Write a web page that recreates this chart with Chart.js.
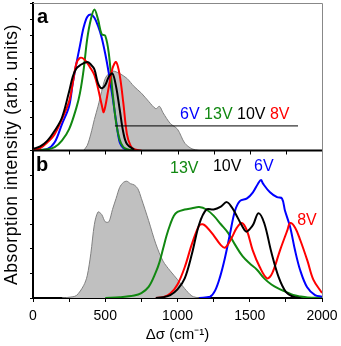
<!DOCTYPE html>
<html lang="en">
<head>
<meta charset="UTF-8">
<title>Absorption spectra</title>
<style>
  body { margin: 0; background: #fff; }
  #wrap { width: 341px; height: 346px; }
</style>
</head>
<body>
<div id="wrap"><canvas id="chart" width="341" height="346"></canvas></div>
<script src="https://cdn.jsdelivr.net/npm/chart.js"></script>
<script>
// ---- panel a ----
const aGrayX  = [350, 375, 400, 425, 450, 475, 500, 525, 550, 575, 600, 650, 700, 750, 800, 850, 875, 900, 950, 1000, 1050, 1100, 1150];
const aGrayY  = [0, 0.3, 1.0, 1.9, 2.7, 3.6, 4.4, 4.7, 4.85, 4.8, 4.7, 4.4, 3.9, 3.5, 3.0, 2.55, 2.7, 2.3, 1.65, 1.3, 0.45, 0.1, 0];
const aBlueX  = [0, 100, 150, 200, 250, 275, 300, 325, 350, 375, 400, 425, 450, 475, 500, 525, 550, 575, 600, 625, 650, 700];
const aBlueY  = [0, 0.1, 0.5, 1.6, 2.7, 4.1, 5.3, 6.4, 7.5, 8.15, 8.3, 8.1, 7.6, 6.9, 5.9, 4.7, 3.3, 1.8, 0.5, 0.15, 0.05, 0];
const aGreenX = [0, 100, 150, 200, 250, 300, 325, 350, 375, 400, 425, 450, 475, 500, 525, 550, 575, 600, 625, 650, 700];
const aGreenY = [0, 0.07, 0.2, 0.6, 1.3, 2.6, 3.5, 4.9, 6.8, 8.0, 8.6, 8.0, 7.1, 7.0, 5.9, 3.6, 1.7, 0.65, 0.2, 0.08, 0];
const aRedX   = [0, 50, 100, 150, 200, 250, 275, 300, 325, 350, 375, 400, 425, 450, 475, 490, 525, 550, 575, 600, 625, 650, 675, 700, 750];
const aRedY   = [0.05, 0.15, 0.5, 1.0, 1.9, 3.0, 4.1, 5.3, 5.65, 5.6, 5.35, 5.0, 4.6, 3.8, 2.8, 2.35, 3.9, 5.0, 5.4, 4.6, 2.9, 1.0, 0.3, 0.08, 0];
const aBlackX = [0, 50, 100, 150, 200, 250, 275, 300, 325, 375, 400, 425, 450, 475, 500, 525, 550, 575, 600, 625, 650, 700];
const aBlackY = [0.1, 0.25, 0.6, 1.2, 2.0, 3.6, 4.5, 5.0, 5.2, 5.4, 5.25, 4.95, 4.1, 3.8, 4.0, 4.5, 4.7, 3.9, 2.5, 1.1, 0.4, 0.05];
const aLineX  = [567, 1834];
const aLineY  = [1.5, 1.5];

// ---- panel b ----
const bGrayX  = [200, 250, 300, 350, 375, 400, 425, 450, 475, 500, 525, 550, 575, 600, 625, 650, 675, 700, 725, 750, 800, 850, 900, 950, 1000, 1050, 1100, 1150];
const bGrayY  = [0, 0.03, 0.1, 0.5, 0.9, 1.8, 3.0, 3.5, 3.4, 3.1, 3.1, 3.6, 4.05, 4.5, 4.7, 4.75, 4.65, 4.6, 4.45, 4.05, 3.15, 2.2, 1.5, 1.1, 0.75, 0.38, 0.08, 0];
const bGreenX = [500, 600, 700, 750, 800, 850, 875, 900, 925, 950, 975, 1000, 1050, 1100, 1150, 1200, 1250, 1300, 1350, 1400, 1450, 1500, 1550, 1600, 1650, 1700, 1750, 1800, 1850, 1900, 2000];
const bGreenY = [0, 0.03, 0.1, 0.2, 0.45, 1.05, 1.45, 2.0, 2.55, 3.0, 3.35, 3.5, 3.6, 3.65, 3.7, 3.6, 3.35, 3.0, 2.65, 2.15, 1.7, 1.4, 1.15, 0.8, 0.55, 0.38, 0.25, 0.12, 0.06, 0.02, 0];
const bBlackX = [850, 900, 950, 1000, 1050, 1100, 1150, 1200, 1250, 1300, 1340, 1375, 1400, 1450, 1475, 1500, 1525, 1560, 1600, 1650, 1700, 1750, 1800, 1850];
const bBlackY = [0, 0.03, 0.12, 0.35, 0.8, 1.8, 3.0, 3.6, 3.6, 3.72, 3.9, 3.7, 3.45, 2.9, 2.7, 2.8, 3.0, 3.45, 3.05, 1.85, 0.85, 0.25, 0.05, 0];
const bRedX   = [850, 900, 950, 1000, 1050, 1100, 1150, 1175, 1200, 1250, 1300, 1330, 1375, 1410, 1445, 1480, 1520, 1570, 1620, 1655, 1710, 1760, 1780, 1815, 1850, 1900, 1940, 2000];
const bRedY   = [0, 0.03, 0.18, 0.55, 1.25, 2.2, 2.95, 3.0, 2.9, 2.55, 2.15, 2.05, 2.45, 2.85, 3.05, 2.75, 1.95, 1.25, 0.8, 1.0, 1.95, 2.75, 3.05, 2.85, 2.35, 1.5, 0.75, 0.2];
const bBlueX  = [1150, 1225, 1260, 1294, 1329, 1363, 1398, 1433, 1481, 1522, 1557, 1578, 1592, 1640, 1689, 1723, 1744, 1779, 1813, 1848, 1896, 1952, 2000];
const bBlueY  = [0, 0.05, 0.3, 0.85, 1.65, 2.6, 3.55, 3.95, 4.05, 4.3, 4.65, 4.8, 4.65, 4.3, 4.1, 4.05, 3.55, 2.9, 1.95, 1.15, 0.45, 0.12, 0.05];

const xTicks = [0, 500, 1000, 1500, 2000];
const labelsA = ['6V', '13V', '10V', '8V'];
const labelsB = ['13V', '10V', '6V', '8V'];

const BLUE = '#0000ff', GREEN = '#118811', RED = '#ff0000', BLACK = '#000000';
const FONT = "'Liberation Sans', Arial, sans-serif";

const pts = (xs, ys) => xs.map((x, i) => ({x: x, y: ys[i]}));

function curve(xs, ys, color, axis, order) {
  return {
    data: pts(xs, ys), yAxisID: axis, borderColor: color, borderWidth: 2,
    pointRadius: 0, tension: 0.35, fill: false, order: order
  };
}
function shade(xs, ys, axis) {
  return {
    data: pts(xs, ys), yAxisID: axis, borderColor: '#808080', borderWidth: 1,
    backgroundColor: '#c0c0c0', pointRadius: 0, tension: 0.3, fill: 'origin', order: 20
  };
}

const decor = {
  id: 'decor',
  afterDatasetsDraw(chart) {
    const c = chart.ctx, x = chart.scales.x, ya = chart.scales.ya, yb = chart.scales.yb;
    c.save();
    // frame top and right (grey)
    c.strokeStyle = '#888';
    c.lineWidth = 1;
    c.beginPath();
    c.moveTo(x.left, ya.top + 0.5); c.lineTo(x.right + 0.5, ya.top + 0.5);
    c.lineTo(x.right + 0.5, yb.bottom);
    c.stroke();
    // separator between panels
    c.strokeStyle = BLACK;
    c.lineWidth = 2;
    c.beginPath();
    c.moveTo(x.left, yb.top); c.lineTo(x.right, yb.top);
    c.stroke();
    // inward ticks on top of panel b
    c.lineWidth = 1;
    c.beginPath();
    for (let v = 250; v < 2000; v += 250) {
      const px = Math.round(x.getPixelForValue(v)) + 0.5;
      c.moveTo(px, yb.top); c.lineTo(px, yb.top + 4);
    }
    c.stroke();

    // panel letters
    c.fillStyle = BLACK;
    c.font = 'bold 20px ' + FONT;
    c.textBaseline = 'alphabetic';
    c.textAlign = 'left';
    c.fillText('a', x.left + 4, ya.top + 20);
    c.fillText('b', x.left + 3, yb.top + 20);

    // series labels panel a
    c.font = '16px ' + FONT;
    const colA = [BLUE, GREEN, BLACK, RED];
    let px = x.getPixelForValue(1018);
    labelsA.forEach((t, i) => {
      c.fillStyle = colA[i];
      c.fillText(t, px, ya.top + 116);
      px += c.measureText(t + ' ').width;
    });
    // series labels panel b
    c.fillStyle = GREEN; c.fillText(labelsB[0], x.getPixelForValue(948), yb.top + 22);
    c.fillStyle = BLACK; c.fillText(labelsB[1], x.getPixelForValue(1245), yb.top + 20);
    c.fillStyle = BLUE;  c.fillText(labelsB[2], x.getPixelForValue(1530), yb.top + 20);
    c.fillStyle = RED;   c.fillText(labelsB[3], x.getPixelForValue(1828), yb.top + 74);

    // y title spanning both panels
    c.fillStyle = BLACK;
    c.font = '17.5px ' + FONT;
    c.letterSpacing = '0.6px';
    c.textAlign = 'center';
    c.textBaseline = 'middle';
    c.translate(12, (ya.top + yb.bottom) / 2 + 4);
    c.rotate(-Math.PI / 2);
    c.fillText('Absorption intensity (arb. units)', 0, 0);
    c.restore();
  }
};

Chart.defaults.font.family = FONT;
Chart.defaults.color = BLACK;

new Chart(document.getElementById('chart'), {
  type: 'line',
  data: {
    datasets: [
      curve(aBlackX, aBlackY, BLACK, 'ya', 1),
      curve(aRedX, aRedY, RED, 'ya', 2),
      curve(aGreenX, aGreenY, GREEN, 'ya', 3),
      curve(aBlueX, aBlueY, BLUE, 'ya', 4),
      {data: pts(aLineX, aLineY), yAxisID: 'ya', borderColor: BLACK, borderWidth: 1, pointRadius: 0, fill: false, order: 0},
      shade(aGrayX, aGrayY, 'ya'),
      curve(bBlackX, bBlackY, BLACK, 'yb', 1),
      curve(bRedX, bRedY, RED, 'yb', 2),
      curve(bBlueX, bBlueY, BLUE, 'yb', 3),
      curve(bGreenX, bGreenY, GREEN, 'yb', 4),
      shade(bGrayX, bGrayY, 'yb')
    ]
  },
  options: {
    responsive: false,
    animation: false,
    layout: {padding: {left: 30, right: 19, top: 3, bottom: 0}},
    plugins: {legend: {display: false}, tooltip: {enabled: false}},
    scales: {
      x: {
        type: 'linear', min: 0, max: 2000, position: 'bottom',
        afterBuildTicks: s => { s.ticks = []; for (let v = 0; v <= 2000; v += 250) s.ticks.push({value: v}); },
        afterFit: s => { s.height = 48; },
        ticks: {
          autoSkip: false, maxRotation: 0, padding: 3, font: {size: 14, lineHeight: 1.6},
          callback: v => xTicks.includes(v) ? String(v) : ''
        },
        grid: {drawOnChartArea: false, drawTicks: true, tickLength: 4, color: BLACK},
        border: {color: BLACK, width: 2},
        title: {display: true, text: 'Δσ (cm⁻¹)', font: {size: 15, lineHeight: 1}, padding: {top: 0, bottom: 3.5}}
      },
      yb: {
        type: 'linear', min: 0, max: 6, position: 'left', stack: 'panels', stackWeight: 1,
        ticks: {display: false, stepSize: 1},
        grid: {drawOnChartArea: false, drawTicks: true, tickLength: 3, color: BLACK},
        border: {color: BLACK, width: 2}
      },
      ya: {
        type: 'linear', min: 0, max: 9, position: 'left', stack: 'panels', stackWeight: 1,
        ticks: {display: false, stepSize: 1},
        grid: {drawOnChartArea: false, drawTicks: true, tickLength: 3, color: BLACK},
        border: {color: BLACK, width: 2}
      }
    }
  },
  plugins: [decor]
});
</script>
</body>
</html>
